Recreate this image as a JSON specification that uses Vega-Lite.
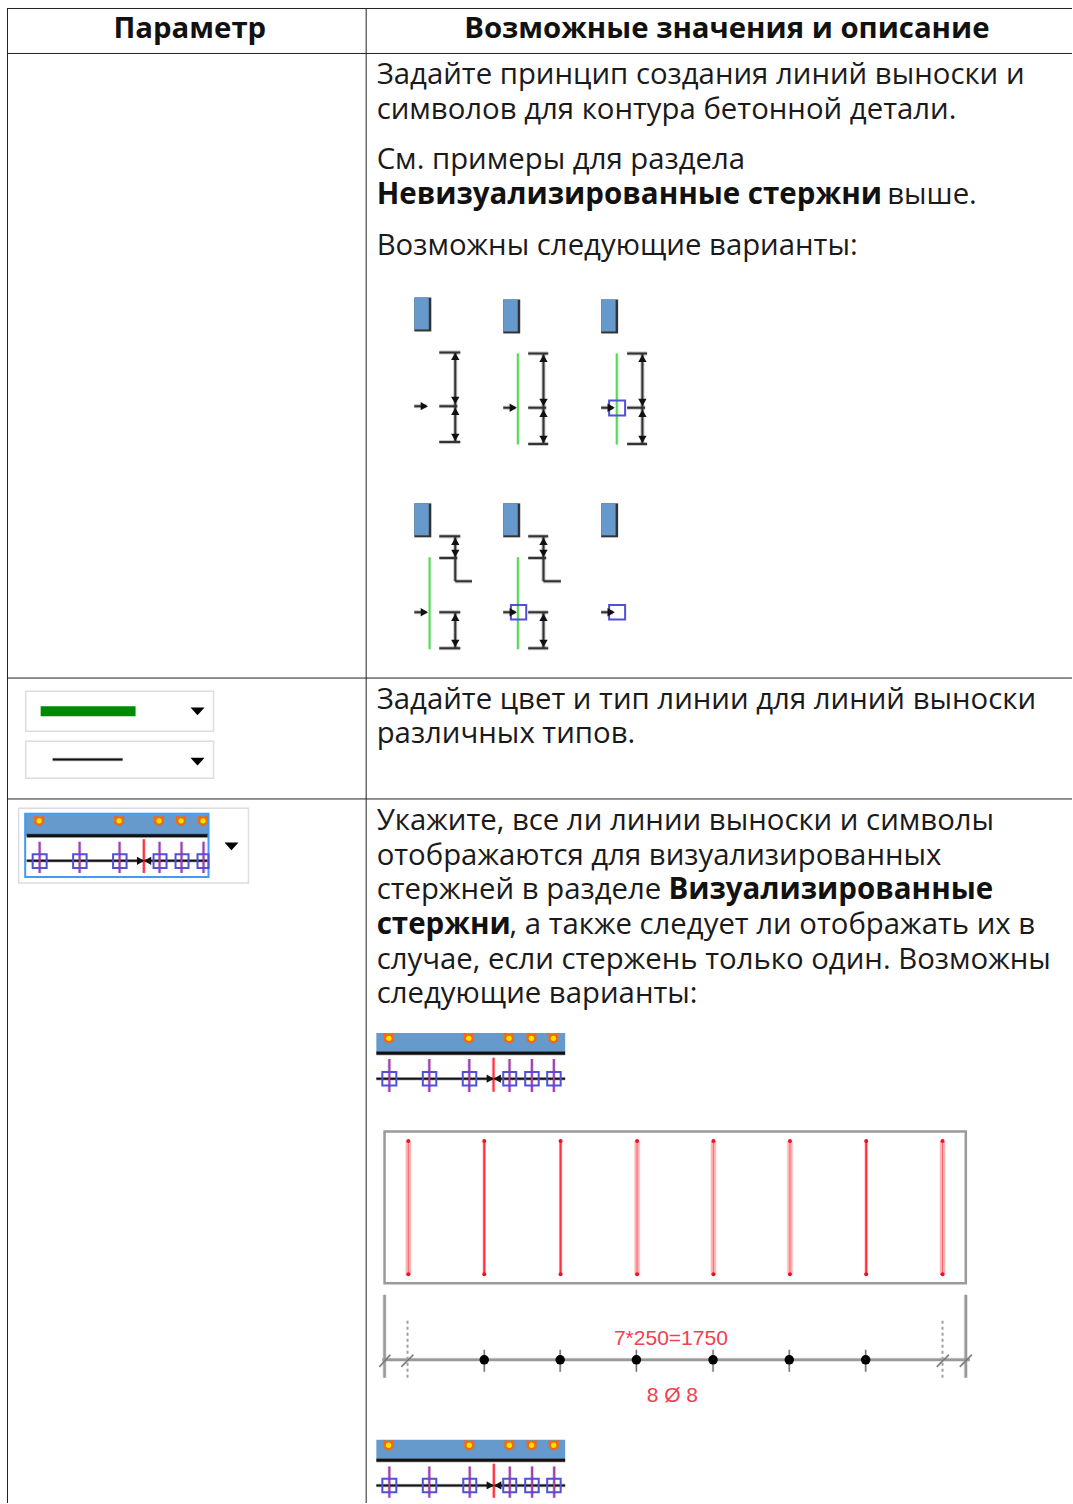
{"$schema":"https://vega.github.io/schema/vega-lite/v6.json","autosize":{"type":"fit","contains":"padding"},"width":1073,"height":1504,"padding":0,"background":"white","config":{"view":{"stroke":null},"legend":{"disable":true}},
"datasets":{
"borders":[
{"x":7,"x2":1073,"y":8.5,"y2":8.5},{"x":7,"x2":1073,"y":53.5,"y2":53.5},{"x":7,"x2":1073,"y":678.5,"y2":678.5},{"x":7,"x2":1073,"y":799.5,"y2":799.5},
{"x":7.5,"x2":7.5,"y":8,"y2":1504},{"x":366.5,"x2":366.5,"y":8,"y2":1504}],
"panels":[
{"x":25,"x2":213,"y":691,"y2":731,"k":"dropdown"},{"x":25,"x2":213,"y":741,"y2":778,"k":"dropdown"},{"x":18,"x2":248,"y":808,"y2":883,"k":"dropdown"},
{"x":40,"x2":135,"y":706,"y2":716,"k":"greenbar"},
{"x":414,"x2":431,"y":297,"y2":331,"k":"edge"},{"x":414,"x2":428.5,"y":297,"y2":329,"k":"steel"},
{"x":503,"x2":520,"y":299,"y2":333,"k":"edge"},{"x":503,"x2":517.5,"y":299,"y2":331,"k":"steel"},
{"x":601,"x2":618,"y":299,"y2":333,"k":"edge"},{"x":601,"x2":615.5,"y":299,"y2":331,"k":"steel"},
{"x":414,"x2":431,"y":503,"y2":537,"k":"edge"},{"x":414,"x2":428.5,"y":503,"y2":535,"k":"steel"},
{"x":503,"x2":520,"y":503,"y2":537,"k":"edge"},{"x":503,"x2":517.5,"y":503,"y2":535,"k":"steel"},
{"x":601,"x2":618,"y":503,"y2":537,"k":"edge"},{"x":601,"x2":615.5,"y":503,"y2":535,"k":"steel"},
{"x":25,"x2":208,"y":814,"y2":835,"k":"steel"},
{"x":376,"x2":565,"y":1033,"y2":1052,"k":"steel"},
{"x":376,"x2":565,"y":1440,"y2":1459,"k":"steel"},
{"x":384.2,"x2":966,"y":1131.5,"y2":1283.5,"k":"frame"},
{"x":24.5,"x2":208,"y":813.5,"y2":877,"k":"selection"}],
"lines":[
{"x":439,"x2":460,"y":352,"y2":352,"k":"dim"},{"x":439,"x2":457,"y":405.7,"y2":405.7,"k":"dim"},{"x":439,"x2":460,"y":441.7,"y2":441.7,"k":"dim"},{"x":455,"x2":455,"y":352,"y2":441.7,"k":"dim"},{"x":414,"x2":426,"y":405.7,"y2":405.7,"k":"dim"},
{"x":528,"x2":548,"y":353,"y2":353,"k":"dim"},{"x":528,"x2":546,"y":407.3,"y2":407.3,"k":"dim"},{"x":528,"x2":548,"y":443.5,"y2":443.5,"k":"dim"},{"x":543.3,"x2":543.3,"y":353,"y2":443.5,"k":"dim"},{"x":503,"x2":515,"y":407.3,"y2":407.3,"k":"dim"},{"x":517.7,"x2":517.7,"y":353,"y2":444,"k":"green"},
{"x":627,"x2":647,"y":353,"y2":353,"k":"dim"},{"x":627,"x2":645,"y":407.3,"y2":407.3,"k":"dim"},{"x":627,"x2":647,"y":443.5,"y2":443.5,"k":"dim"},{"x":642.3,"x2":642.3,"y":353,"y2":443.5,"k":"dim"},{"x":601,"x2":613,"y":407.3,"y2":407.3,"k":"dim"},{"x":616.7,"x2":616.7,"y":353,"y2":444,"k":"green"},
{"x":439,"x2":460,"y":536,"y2":536,"k":"dim"},{"x":439,"x2":457,"y":557.7,"y2":557.7,"k":"dim"},{"x":455,"x2":455,"y":536,"y2":581,"k":"dim"},{"x":455,"x2":471.7,"y":581,"y2":581,"k":"dim"},{"x":439,"x2":460,"y":612,"y2":612,"k":"dim"},{"x":439,"x2":460,"y":648,"y2":648,"k":"dim"},{"x":455,"x2":455,"y":612,"y2":648,"k":"dim"},{"x":414,"x2":426,"y":612,"y2":612,"k":"dim"},{"x":429.3,"x2":429.3,"y":557,"y2":649,"k":"green"},
{"x":528,"x2":548,"y":536,"y2":536,"k":"dim"},{"x":528,"x2":546,"y":557.7,"y2":557.7,"k":"dim"},{"x":543.3,"x2":543.3,"y":536,"y2":581,"k":"dim"},{"x":543.3,"x2":560.7,"y":581,"y2":581,"k":"dim"},{"x":528,"x2":548,"y":612,"y2":612,"k":"dim"},{"x":528,"x2":548,"y":648,"y2":648,"k":"dim"},{"x":543.3,"x2":543.3,"y":612,"y2":648,"k":"dim"},{"x":503,"x2":515,"y":612,"y2":612,"k":"dim"},{"x":517.7,"x2":517.7,"y":557,"y2":649,"k":"green"},
{"x":601,"x2":613,"y":612,"y2":612,"k":"dim"},
{"x":52,"x2":122,"y":759.3,"y2":759.3,"k":"black"},
{"x":26,"x2":207,"y":835.7,"y2":835.7,"k":"heavy"},{"x":26,"x2":207,"y":860.7,"y2":860.7,"k":"black"},
{"x":39,"x2":39,"y":841.7,"y2":873,"k":"purple"},{"x":79,"x2":79,"y":841.7,"y2":873,"k":"purple"},{"x":119,"x2":119,"y":841.7,"y2":873,"k":"purple"},{"x":159,"x2":159,"y":841.7,"y2":873,"k":"purple"},{"x":181,"x2":181,"y":841.7,"y2":873,"k":"purple"},{"x":203,"x2":203,"y":841.7,"y2":873,"k":"purple"},{"x":143.3,"x2":143.3,"y":839,"y2":873,"k":"red"},
{"x":376,"x2":565,"y":1053.3,"y2":1053.3,"k":"heavy"},{"x":376,"x2":565,"y":1078.7,"y2":1078.7,"k":"black"},
{"x":389,"x2":389,"y":1059,"y2":1092,"k":"purple"},{"x":429,"x2":429,"y":1059,"y2":1092,"k":"purple"},{"x":469,"x2":469,"y":1059,"y2":1092,"k":"purple"},{"x":509.3,"x2":509.3,"y":1059,"y2":1092,"k":"purple"},{"x":531.7,"x2":531.7,"y":1059,"y2":1092,"k":"purple"},{"x":553.7,"x2":553.7,"y":1059,"y2":1092,"k":"purple"},{"x":493.3,"x2":493.3,"y":1057.7,"y2":1091.7,"k":"red"},
{"x":376,"x2":565,"y":1460.5,"y2":1460.5,"k":"heavy"},{"x":376,"x2":565,"y":1485.7,"y2":1485.7,"k":"black"},
{"x":389,"x2":389,"y":1466.7,"y2":1498,"k":"purple"},{"x":429,"x2":429,"y":1466.7,"y2":1498,"k":"purple"},{"x":469.5,"x2":469.5,"y":1466.7,"y2":1498,"k":"purple"},{"x":509.6,"x2":509.6,"y":1466.7,"y2":1498,"k":"purple"},{"x":531.9,"x2":531.9,"y":1466.7,"y2":1498,"k":"purple"},{"x":554,"x2":554,"y":1466.7,"y2":1498,"k":"purple"},{"x":493.6,"x2":493.6,"y":1464,"y2":1498,"k":"red"},
{"x":408,"x2":408,"y":1141,"y2":1275,"k":"pink"},{"x":637,"x2":637,"y":1141,"y2":1275,"k":"pink"},{"x":713.4,"x2":713.4,"y":1141,"y2":1275,"k":"pink"},{"x":790,"x2":790,"y":1141,"y2":1275,"k":"pink"},{"x":942.7,"x2":942.7,"y":1141,"y2":1275,"k":"pink"},
{"x":408,"x2":408,"y":1141,"y2":1275,"k":"core"},{"x":484,"x2":484,"y":1141,"y2":1275,"k":"red"},{"x":560.4,"x2":560.4,"y":1141,"y2":1275,"k":"red"},{"x":637,"x2":637,"y":1141,"y2":1275,"k":"core"},{"x":713.4,"x2":713.4,"y":1141,"y2":1275,"k":"core"},{"x":790,"x2":790,"y":1141,"y2":1275,"k":"core"},{"x":866.3,"x2":866.3,"y":1141,"y2":1275,"k":"red"},{"x":942.7,"x2":942.7,"y":1141,"y2":1275,"k":"core"},
{"x":384.2,"x2":384.2,"y":1295,"y2":1378,"k":"gray"},{"x":966,"x2":966,"y":1295,"y2":1378,"k":"gray"},{"x":382,"x2":970,"y":1360,"y2":1360,"k":"gray"},
{"x":407.2,"x2":407.2,"y":1321,"y2":1378,"k":"dots"},{"x":942.7,"x2":942.7,"y":1321,"y2":1378,"k":"dots"},
{"x":379,"x2":390,"y":1367,"y2":1355,"k":"slash"},{"x":401,"x2":413,"y":1367,"y2":1355,"k":"slash"},{"x":937,"x2":949,"y":1367,"y2":1355,"k":"slash"},{"x":960,"x2":972,"y":1367,"y2":1355,"k":"slash"},
{"x":484,"x2":484,"y":1350,"y2":1372,"k":"slash"},{"x":560,"x2":560,"y":1350,"y2":1372,"k":"slash"},{"x":636.3,"x2":636.3,"y":1350,"y2":1372,"k":"slash"},{"x":713,"x2":713,"y":1350,"y2":1372,"k":"slash"},{"x":789.3,"x2":789.3,"y":1350,"y2":1372,"k":"slash"},{"x":865.8,"x2":865.8,"y":1350,"y2":1372,"k":"slash"}],
"squares":[
{"x":609,"x2":625,"y":400,"y2":415},{"x":510.7,"x2":526,"y":604.7,"y2":619.3},{"x":609,"x2":625,"y":604.7,"y2":619.3},
{"x":32,"x2":46,"y":854,"y2":868},{"x":72.5,"x2":86,"y":854,"y2":868},{"x":112.5,"x2":126,"y":854,"y2":868},{"x":153,"x2":166,"y":854,"y2":868},{"x":175,"x2":188,"y":854,"y2":868},{"x":197,"x2":208,"y":854,"y2":868},
{"x":382,"x2":396,"y":1072,"y2":1085.5},{"x":422.5,"x2":436,"y":1072,"y2":1085.5},{"x":462.5,"x2":476,"y":1072,"y2":1085.5},{"x":503,"x2":516,"y":1072,"y2":1085.5},{"x":525,"x2":538.5,"y":1072,"y2":1085.5},{"x":547,"x2":560.5,"y":1072,"y2":1085.5},
{"x":382,"x2":396,"y":1479,"y2":1492.5},{"x":422.5,"x2":436,"y":1479,"y2":1492.5},{"x":463,"x2":476,"y":1479,"y2":1492.5},{"x":503,"x2":516,"y":1479,"y2":1492.5},{"x":525,"x2":538.5,"y":1479,"y2":1492.5},{"x":547,"x2":560.5,"y":1479,"y2":1492.5}],
"symbols":[
{"x":455,"y":356,"k":"up"},{"x":455,"y":400,"k":"down"},{"x":455,"y":411,"k":"up"},{"x":455,"y":437,"k":"down"},{"x":424,"y":405.7,"k":"right"},
{"x":543.3,"y":358,"k":"up"},{"x":543.3,"y":402,"k":"down"},{"x":543.3,"y":413,"k":"up"},{"x":543.3,"y":439,"k":"down"},{"x":513,"y":407.3,"k":"right"},
{"x":642.3,"y":358,"k":"up"},{"x":642.3,"y":402,"k":"down"},{"x":642.3,"y":413,"k":"up"},{"x":642.3,"y":439,"k":"down"},{"x":611,"y":407.3,"k":"right"},
{"x":455,"y":541,"k":"up"},{"x":455,"y":553,"k":"down"},{"x":455,"y":617,"k":"up"},{"x":455,"y":643,"k":"down"},{"x":424,"y":612,"k":"right"},
{"x":543.3,"y":541,"k":"up"},{"x":543.3,"y":553,"k":"down"},{"x":543.3,"y":617,"k":"up"},{"x":543.3,"y":643,"k":"down"},{"x":513,"y":612,"k":"right"},{"x":611,"y":612,"k":"right"},
{"x":197,"y":711.2,"k":"caret"},{"x":197,"y":761.5,"k":"caret"},{"x":231,"y":846.2,"k":"caret"},
{"x":140,"y":860.7,"k":"right"},{"x":147,"y":860.7,"k":"left"},{"x":490,"y":1078.7,"k":"right"},{"x":497,"y":1078.7,"k":"left"},{"x":490,"y":1485.7,"k":"right"},{"x":497.5,"y":1485.7,"k":"left"},
{"x":38.5,"y":820.7,"k":"orange"},{"x":118.5,"y":820.7,"k":"orange"},{"x":158.5,"y":820.7,"k":"orange"},{"x":180.5,"y":820.7,"k":"orange"},{"x":202.5,"y":820.7,"k":"orange"},
{"x":388.5,"y":1038.3,"k":"orange"},{"x":468.5,"y":1038.3,"k":"orange"},{"x":508.8,"y":1038.3,"k":"orange"},{"x":531.2,"y":1038.3,"k":"orange"},{"x":553.2,"y":1038.3,"k":"orange"},
{"x":388.2,"y":1445.5,"k":"orange"},{"x":469,"y":1445.5,"k":"orange"},{"x":509.1,"y":1445.5,"k":"orange"},{"x":531.4,"y":1445.5,"k":"orange"},{"x":553.5,"y":1445.5,"k":"orange"},
{"x":38.5,"y":820.7,"k":"yellow"},{"x":118.5,"y":820.7,"k":"yellow"},{"x":158.5,"y":820.7,"k":"yellow"},{"x":180.5,"y":820.7,"k":"yellow"},{"x":202.5,"y":820.7,"k":"yellow"},
{"x":388.5,"y":1038.3,"k":"yellow"},{"x":468.5,"y":1038.3,"k":"yellow"},{"x":508.8,"y":1038.3,"k":"yellow"},{"x":531.2,"y":1038.3,"k":"yellow"},{"x":553.2,"y":1038.3,"k":"yellow"},
{"x":388.2,"y":1445.5,"k":"yellow"},{"x":469,"y":1445.5,"k":"yellow"},{"x":509.1,"y":1445.5,"k":"yellow"},{"x":531.4,"y":1445.5,"k":"yellow"},{"x":553.5,"y":1445.5,"k":"yellow"},
{"x":408,"y":1141,"k":"reddot"},{"x":484,"y":1141,"k":"reddot"},{"x":560.4,"y":1141,"k":"reddot"},{"x":637,"y":1141,"k":"reddot"},{"x":713.4,"y":1141,"k":"reddot"},{"x":790,"y":1141,"k":"reddot"},{"x":866.3,"y":1141,"k":"reddot"},{"x":942.7,"y":1141,"k":"reddot"},
{"x":408,"y":1274.5,"k":"reddot"},{"x":484,"y":1274.5,"k":"reddot"},{"x":560.4,"y":1274.5,"k":"reddot"},{"x":637,"y":1274.5,"k":"reddot"},{"x":713.4,"y":1274.5,"k":"reddot"},{"x":790,"y":1274.5,"k":"reddot"},{"x":866.3,"y":1274.5,"k":"reddot"},{"x":942.7,"y":1274.5,"k":"reddot"},
{"x":484,"y":1360,"k":"blackdot"},{"x":560,"y":1360,"k":"blackdot"},{"x":636.3,"y":1360,"k":"blackdot"},{"x":713,"y":1360,"k":"blackdot"},{"x":789.3,"y":1360,"k":"blackdot"},{"x":865.8,"y":1360,"k":"blackdot"}],
"heads":[{"x":190,"y":38,"t":"Параметр"},{"x":727.5,"y":38,"t":"Возможные значения и описание"}],
"regular":[
{"x":377,"y":84,"t":"Задайте принцип создания линий выноски и"},
{"x":377,"y":119,"t":"символов для контура бетонной детали."},
{"x":377,"y":169,"t":"См. примеры для раздела"},
{"x":888,"y":204,"t":"выше."},
{"x":377,"y":255,"t":"Возможны следующие варианты:"},
{"x":377,"y":709,"t":"Задайте цвет и тип линии для линий выноски"},
{"x":377,"y":743,"t":"различных типов."},
{"x":377,"y":831,"t":"Укажите, все ли линии выноски и символы"},
{"x":377,"y":866,"t":"отображаются для визуализированных"},
{"x":377,"y":900,"t":"стержней в разделе"},
{"x":510,"y":935,"t":", а также следует ли отображать их в"},
{"x":377,"y":970,"t":"случае, если стержень только один. Возможны"},
{"x":377,"y":1004,"t":"следующие варианты:"}],
"bold":[
{"x":377,"y":204,"t":"Невизуализированные стержни"},
{"x":669,"y":900,"t":"Визуализированные"},
{"x":377,"y":935,"t":"стержни"}],
"notes":[{"x":671.5,"y":1346,"t":"7*250=1750"},{"x":673,"y":1403,"t":"8 Ø 8"}]
},
"resolve":{"scale":{"x":"independent","y":"independent","color":"independent","fill":"independent","stroke":"independent","strokeWidth":"independent","size":"independent","shape":"independent","strokeDash":"independent"}},
"layer":[
{"data":{"name":"panels"},"mark":{"type":"rect"},"encoding":{
"x":{"field":"x","type":"quantitative","axis":null,"scale":{"domain":[-0.7,1072.3],"nice":false,"zero":false}},"x2":{"field":"x2"},
"y":{"field":"y","type":"quantitative","axis":null,"scale":{"domain":[-0.7,1503.3],"reverse":true,"nice":false,"zero":false}},"y2":{"field":"y2"},
"fill":{"field":"k","type":"nominal","scale":{"domain":["dropdown","greenbar","edge","steel","frame","selection"],"range":["#ffffff","#008a00","#333333","#6699cc","#ffffff","transparent"]}},
"stroke":{"field":"k","type":"nominal","scale":{"domain":["dropdown","greenbar","edge","steel","frame","selection"],"range":["#dcdce2","#008a00","#333333","#6699cc","#9a9a9a","#3f9bf5"]}},
"strokeWidth":{"field":"k","type":"nominal","scale":{"type":"ordinal","domain":["dropdown","greenbar","edge","steel","frame","selection"],"range":[1.5,0,0,0,2.5,2]}}}},
{"data":{"name":"lines"},"mark":{"type":"rule","opacity":0.3},"encoding":{
"x":{"field":"x","type":"quantitative","axis":null,"scale":{"domain":[-0.7,1072.3],"nice":false,"zero":false}},"x2":{"field":"x2"},
"y":{"field":"y","type":"quantitative","axis":null,"scale":{"domain":[-0.7,1503.3],"reverse":true,"nice":false,"zero":false}},"y2":{"field":"y2"},
"color":{"field":"k","type":"nominal","scale":{"domain":["dim","green","black","heavy","purple","red","pink","core","gray","dots","slash"],"range":["#333333","#55d855","#222222","#222222","#a040b0","#ff3040","#ffb4b4","#ff4050","#8a8a8a","#a0a0a0","#707070"]}},
"strokeWidth":{"field":"k","type":"nominal","scale":{"type":"ordinal","domain":["dim","green","black","heavy","purple","red","pink","core","gray","dots","slash"],"range":[4,3.5,3.5,4.5,3.5,3.5,6.5,3,4,0,2.5]}}}},
{"data":{"name":"lines"},"mark":{"type":"rule"},"encoding":{
"x":{"field":"x","type":"quantitative","axis":null,"scale":{"domain":[-0.7,1072.3],"nice":false,"zero":false}},"x2":{"field":"x2"},
"y":{"field":"y","type":"quantitative","axis":null,"scale":{"domain":[-0.7,1503.3],"reverse":true,"nice":false,"zero":false}},"y2":{"field":"y2"},
"color":{"field":"k","type":"nominal","scale":{"domain":["dim","green","black","heavy","purple","red","pink","core","gray","dots","slash"],"range":["#333333","#55d855","#111111","#111111","#a040b0","#ff3040","#ffb4b4","#ff6070","#999999","#a0a0a0","#707070"]}},
"strokeWidth":{"field":"k","type":"nominal","scale":{"type":"ordinal","domain":["dim","green","black","heavy","purple","red","pink","core","gray","dots","slash"],"range":[2,1.8,2,3,2,2,5,1,2.4,2,1.2]}},
"strokeDash":{"field":"k","type":"nominal","scale":{"domain":["dim","green","black","heavy","purple","red","pink","core","gray","dots","slash"],"range":[[1,0],[1,0],[1,0],[1,0],[1,0],[1,0],[1,0],[1,0],[1,0],[3,3],[1,0]]}}}},
{"data":{"name":"squares"},"mark":{"type":"rect","fill":"transparent","stroke":"#5050d8","strokeWidth":2},"encoding":{
"x":{"field":"x","type":"quantitative","axis":null,"scale":{"domain":[-0.7,1072.3],"nice":false,"zero":false}},"x2":{"field":"x2"},
"y":{"field":"y","type":"quantitative","axis":null,"scale":{"domain":[-0.7,1503.3],"reverse":true,"nice":false,"zero":false}},"y2":{"field":"y2"}}},
{"data":{"name":"symbols"},"mark":{"type":"point","filled":true,"opacity":1},"encoding":{
"x":{"field":"x","type":"quantitative","axis":null,"scale":{"domain":[-0.7,1072.3],"nice":false,"zero":false}},
"y":{"field":"y","type":"quantitative","axis":null,"scale":{"domain":[-0.7,1503.3],"reverse":true,"nice":false,"zero":false}},
"shape":{"field":"k","type":"nominal","scale":{"domain":["up","down","right","left","caret","orange","yellow","reddot","blackdot"],"range":["triangle-up","triangle-down","triangle-right","triangle-left","M-1,-0.55L1,-0.55L0,0.55Z","M-0.9,-1L-0.4,-0.8L0.4,-0.8L0.9,-1L0.9,0.5L0,1L-0.9,0.5Z","circle","circle","circle"]}},
"color":{"field":"k","type":"nominal","scale":{"domain":["up","down","right","left","caret","orange","yellow","reddot","blackdot"],"range":["#111111","#111111","#111111","#111111","#000000","#f06a10","#ffe000","#ee1122","#000000"]}},
"size":{"field":"k","type":"nominal","scale":{"type":"ordinal","domain":["up","down","right","left","caret","orange","yellow","reddot","blackdot"],"range":[70,70,70,70,196,121,28,16,90]}}}},
{"data":{"name":"borders"},"mark":{"type":"rule","color":"#222222","strokeWidth":1},"encoding":{
"x":{"field":"x","type":"quantitative","axis":null,"scale":{"domain":[0,1073],"nice":false,"zero":false}},"x2":{"field":"x2"},
"y":{"field":"y","type":"quantitative","axis":null,"scale":{"domain":[0,1504],"reverse":true,"nice":false,"zero":false}},"y2":{"field":"y2"}}},
{"data":{"name":"heads"},"mark":{"type":"text","font":"Open Sans","fontSize":29.33,"fontWeight":"bold","align":"center","baseline":"alphabetic","color":"#111111"},"encoding":{
"x":{"field":"x","type":"quantitative","axis":null,"scale":{"domain":[0,1073],"nice":false,"zero":false}},
"y":{"field":"y","type":"quantitative","axis":null,"scale":{"domain":[0,1504],"reverse":true,"nice":false,"zero":false}},"text":{"field":"t"}}},
{"data":{"name":"regular"},"mark":{"type":"text","font":"Open Sans","fontSize":29.33,"align":"left","baseline":"alphabetic","color":"#1a1a1a"},"encoding":{
"x":{"field":"x","type":"quantitative","axis":null,"scale":{"domain":[0,1073],"nice":false,"zero":false}},
"y":{"field":"y","type":"quantitative","axis":null,"scale":{"domain":[0,1504],"reverse":true,"nice":false,"zero":false}},"text":{"field":"t"}}},
{"data":{"name":"bold"},"mark":{"type":"text","font":"Open Sans","fontSize":29.5,"fontWeight":"bold","align":"left","baseline":"alphabetic","color":"#111111"},"encoding":{
"x":{"field":"x","type":"quantitative","axis":null,"scale":{"domain":[0,1073],"nice":false,"zero":false}},
"y":{"field":"y","type":"quantitative","axis":null,"scale":{"domain":[0,1504],"reverse":true,"nice":false,"zero":false}},"text":{"field":"t"}}},
{"data":{"name":"notes"},"mark":{"type":"text","font":"Liberation Sans","fontSize":21,"align":"center","baseline":"alphabetic","color":"#f04050"},"encoding":{
"x":{"field":"x","type":"quantitative","axis":null,"scale":{"domain":[0,1073],"nice":false,"zero":false}},
"y":{"field":"y","type":"quantitative","axis":null,"scale":{"domain":[0,1504],"reverse":true,"nice":false,"zero":false}},"text":{"field":"t"}}}
]}
